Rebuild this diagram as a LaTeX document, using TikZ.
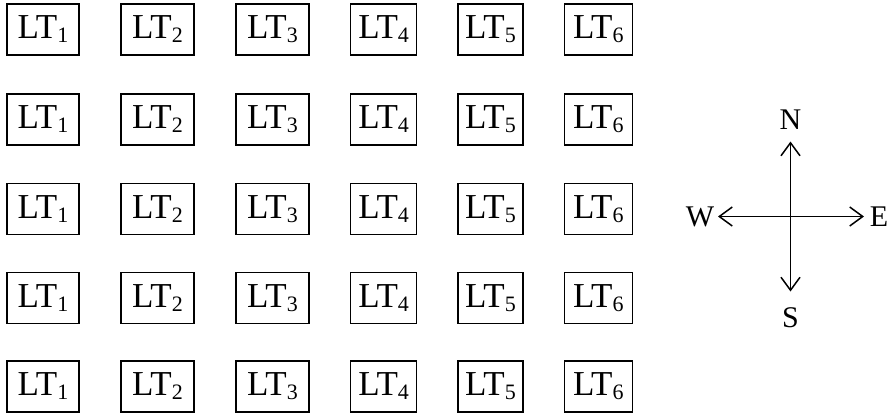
\documentclass[tikz,border=0pt]{standalone}
\usepackage{fontspec}
\setmainfont{Liberation Serif}
\usetikzlibrary{arrows.meta}
\newcommand{\ltlabel}[1]{LT\raisebox{-4pt}{\fontsize{22}{22}\selectfont #1}}
\tikzset{
  ltbox/.style={draw=black, line width=1.5pt, minimum height=51pt, inner sep=0pt,
    font=\fontsize{35}{38}\selectfont},
  dirlabel/.style={inner sep=0pt, font=\fontsize{30}{32}\selectfont},
  compass/.style={line width=1.5pt, {Straight Barb[length=13pt,width=19pt]}-{Straight Barb[length=13pt,width=19pt]}}
}
\begin{document}
\begin{tikzpicture}[x=1pt,y=-1pt]
\useasboundingbox (0,0) rectangle (895,416);
\foreach \r/\y in {1/29.5,2/119.5,3/208.8,4/298,5/386.5}{
  \foreach \c/\x/\w in {1/43/72,2/157.5/73,3/272.5/73,4/383.7/66,5/490.5/65,6/598.3/68}{
    \node[ltbox, minimum width=\w pt] (b\r\c) at (\x,\y) {\ltlabel{\c}};
  }
}
\coordinate (cc) at (790.5,216.5);
\coordinate (ntip) at (790.5,141.5);
\coordinate (stip) at (790.5,291.5);
\coordinate (wtip) at (718,216.5);
\coordinate (etip) at (864,216.5);
\draw[compass] (stip) -- (ntip);
\draw[compass] (wtip) -- (etip);
\node[dirlabel] (nl) at (790.5,120) {N};
\node[dirlabel] (sl) at (790.5,318) {S};
\node[dirlabel] (wl) at (700,217) {W};
\node[dirlabel] (el) at (879,217) {E};
\end{tikzpicture}
\end{document}
